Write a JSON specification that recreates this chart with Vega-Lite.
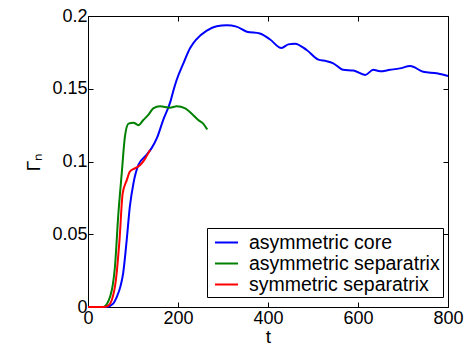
{
  "$schema": "https://vega.github.io/schema/vega-lite/v6.json",
  "width": 360,
  "height": 291,
  "autosize": {"type": "none"},
  "padding": {"left": 88, "top": 16, "right": 22, "bottom": 40},
  "background": "white",
  "config": {
    "font": "Liberation Sans",
    "view": {"stroke": "black", "strokeWidth": 1},
    "axis": {"grid": false, "domain": false, "ticks": true, "tickColor": "black", "tickSize": 5, "offset": -5, "tickWidth": 1, "labelFlush": false, "labelColor": "black", "titleColor": "black", "labelFont": "Liberation Sans", "titleFont": "Liberation Sans", "labelFontSize": 18, "titleFontSize": 19, "titleFontWeight": "normal", "zindex": 1}
  },
  "data": {"values": [
    {"s": "asymmetric core", "t": 0, "g": 0},
    {"s": "asymmetric core", "t": 41, "g": 0},
    {"s": "asymmetric core", "t": 55, "g": 0.002},
    {"s": "asymmetric core", "t": 64, "g": 0.007},
    {"s": "asymmetric core", "t": 72, "g": 0.014},
    {"s": "asymmetric core", "t": 78, "g": 0.023},
    {"s": "asymmetric core", "t": 86, "g": 0.046},
    {"s": "asymmetric core", "t": 93, "g": 0.069},
    {"s": "asymmetric core", "t": 101, "g": 0.085},
    {"s": "asymmetric core", "t": 112, "g": 0.0976},
    {"s": "asymmetric core", "t": 130, "g": 0.1045},
    {"s": "asymmetric core", "t": 141, "g": 0.109},
    {"s": "asymmetric core", "t": 153, "g": 0.116},
    {"s": "asymmetric core", "t": 167, "g": 0.1285},
    {"s": "asymmetric core", "t": 184, "g": 0.142},
    {"s": "asymmetric core", "t": 190, "g": 0.149},
    {"s": "asymmetric core", "t": 197, "g": 0.156},
    {"s": "asymmetric core", "t": 212, "g": 0.1675},
    {"s": "asymmetric core", "t": 227, "g": 0.178},
    {"s": "asymmetric core", "t": 241, "g": 0.184},
    {"s": "asymmetric core", "t": 264, "g": 0.190},
    {"s": "asymmetric core", "t": 286, "g": 0.193},
    {"s": "asymmetric core", "t": 308, "g": 0.1936},
    {"s": "asymmetric core", "t": 330, "g": 0.1927},
    {"s": "asymmetric core", "t": 353, "g": 0.1892},
    {"s": "asymmetric core", "t": 382, "g": 0.188},
    {"s": "asymmetric core", "t": 404, "g": 0.184},
    {"s": "asymmetric core", "t": 430, "g": 0.178},
    {"s": "asymmetric core", "t": 445, "g": 0.1805},
    {"s": "asymmetric core", "t": 460, "g": 0.181},
    {"s": "asymmetric core", "t": 486, "g": 0.1766},
    {"s": "asymmetric core", "t": 512, "g": 0.170},
    {"s": "asymmetric core", "t": 530, "g": 0.169},
    {"s": "asymmetric core", "t": 545, "g": 0.1675},
    {"s": "asymmetric core", "t": 567, "g": 0.163},
    {"s": "asymmetric core", "t": 590, "g": 0.1625},
    {"s": "asymmetric core", "t": 616, "g": 0.1595},
    {"s": "asymmetric core", "t": 634, "g": 0.163},
    {"s": "asymmetric core", "t": 649, "g": 0.162},
    {"s": "asymmetric core", "t": 671, "g": 0.163},
    {"s": "asymmetric core", "t": 693, "g": 0.164},
    {"s": "asymmetric core", "t": 716, "g": 0.1656},
    {"s": "asymmetric core", "t": 745, "g": 0.1617},
    {"s": "asymmetric core", "t": 775, "g": 0.1606},
    {"s": "asymmetric core", "t": 800, "g": 0.1588},
    {"s": "asymmetric separatrix", "t": 0, "g": 0},
    {"s": "asymmetric separatrix", "t": 34, "g": 0},
    {"s": "asymmetric separatrix", "t": 42, "g": 0.002},
    {"s": "asymmetric separatrix", "t": 49, "g": 0.007},
    {"s": "asymmetric separatrix", "t": 55, "g": 0.015},
    {"s": "asymmetric separatrix", "t": 60, "g": 0.028},
    {"s": "asymmetric separatrix", "t": 67, "g": 0.062},
    {"s": "asymmetric separatrix", "t": 75, "g": 0.092},
    {"s": "asymmetric separatrix", "t": 82, "g": 0.117},
    {"s": "asymmetric separatrix", "t": 90, "g": 0.126},
    {"s": "asymmetric separatrix", "t": 101, "g": 0.1267},
    {"s": "asymmetric separatrix", "t": 112, "g": 0.125},
    {"s": "asymmetric separatrix", "t": 123, "g": 0.1285},
    {"s": "asymmetric separatrix", "t": 134, "g": 0.132},
    {"s": "asymmetric separatrix", "t": 145, "g": 0.1365},
    {"s": "asymmetric separatrix", "t": 160, "g": 0.138},
    {"s": "asymmetric separatrix", "t": 182, "g": 0.137},
    {"s": "asymmetric separatrix", "t": 197, "g": 0.138},
    {"s": "asymmetric separatrix", "t": 216, "g": 0.1365},
    {"s": "asymmetric separatrix", "t": 230, "g": 0.133},
    {"s": "asymmetric separatrix", "t": 245, "g": 0.1285},
    {"s": "asymmetric separatrix", "t": 256, "g": 0.126},
    {"s": "asymmetric separatrix", "t": 265, "g": 0.122},
    {"s": "symmetric separatrix", "t": 0, "g": 0},
    {"s": "symmetric separatrix", "t": 34, "g": 0},
    {"s": "symmetric separatrix", "t": 45, "g": 0.001},
    {"s": "symmetric separatrix", "t": 53, "g": 0.0048},
    {"s": "symmetric separatrix", "t": 62, "g": 0.0186},
    {"s": "symmetric separatrix", "t": 70, "g": 0.046},
    {"s": "symmetric separatrix", "t": 77, "g": 0.078},
    {"s": "symmetric separatrix", "t": 86, "g": 0.087},
    {"s": "symmetric separatrix", "t": 93, "g": 0.093},
    {"s": "symmetric separatrix", "t": 104, "g": 0.0953},
    {"s": "symmetric separatrix", "t": 116, "g": 0.0976},
    {"s": "symmetric separatrix", "t": 127, "g": 0.102},
    {"s": "symmetric separatrix", "t": 138, "g": 0.108}
  ]},
  "layer": [
    {
      "mark": {"type": "line", "strokeWidth": 2, "interpolate": "monotone"},
      "encoding": {
        "x": {"field": "t", "type": "quantitative", "scale": {"domain": [0, 800], "nice": false}, "axis": {"title": "t", "values": [0, 200, 400, 600, 800], "format": "d", "labelPadding": 2, "titlePadding": 0}},
        "y": {"field": "g", "type": "quantitative", "scale": {"domain": [0, 0.2], "nice": false}, "axis": {"title": "Γₙ", "values": [0, 0.05, 0.1, 0.15, 0.2], "format": "~g", "labelPadding": 1, "titlePadding": 8}},
        "color": {"field": "s", "type": "nominal", "scale": {"domain": ["asymmetric core", "asymmetric separatrix", "symmetric separatrix"], "range": ["#0000ff", "#008000", "#ff0000"]},
          "legend": {"title": null, "orient": "none", "legendX": 119, "legendY": 212, "symbolType": "M-1.1,0H1.1", "symbolSize": 441, "symbolStrokeWidth": 2, "symbolFillColor": "transparent", "labelFontSize": 19.5, "labelLimit": 400, "labelColor": "black", "labelFont": "Liberation Sans", "strokeColor": "black", "fillColor": "white", "padding": 3, "rowPadding": 0, "symbolOffset": 5, "labelOffset": 11, "zindex": 2}}
      }
    },
    {
      "mark": {"type": "line", "opacity": 0},
      "encoding": {
        "x": {"field": "t", "type": "quantitative", "axis": {"orient": "top", "title": null, "labels": false, "values": [0, 200, 400, 600, 800]}},
        "y": {"field": "g", "type": "quantitative", "axis": {"orient": "right", "title": null, "labels": false, "values": [0, 0.05, 0.1, 0.15, 0.2]}},
        "detail": {"field": "s", "type": "nominal"}
      }
    }
  ],
  "resolve": {"axis": {"x": "independent", "y": "independent"}}
}
